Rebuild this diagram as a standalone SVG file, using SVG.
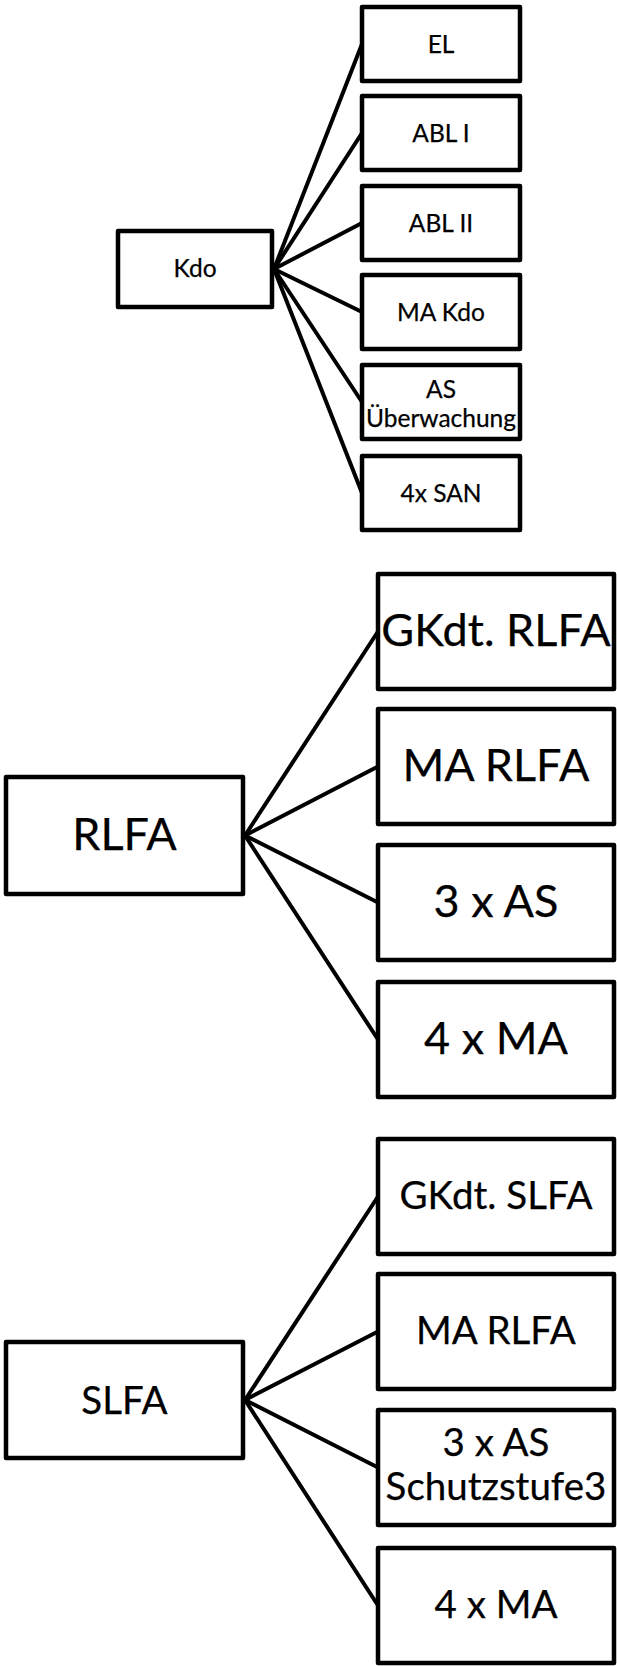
<svg xmlns="http://www.w3.org/2000/svg" width="617" height="1666" viewBox="0 0 617 1666">
<style>
rect{fill:#fff;stroke:#000;stroke-width:4.5;stroke-linejoin:round}
.c line{stroke:#000;stroke-width:4;stroke-linecap:round}
text{font-family:Lato,"Open Sans","Liberation Sans",sans-serif;fill:#000;text-anchor:middle;stroke:#000;stroke-width:0.25}
.s{font-size:24.5px}
.m{font-size:45px}
.n{font-size:38.5px}
</style>
<rect x="0" y="0" width="617" height="1666" style="stroke:none"/>
<g class="c" id="connectors">
<line x1="274" y1="269" x2="362" y2="44"/>
<line x1="274" y1="269" x2="362" y2="133"/>
<line x1="274" y1="269" x2="362" y2="223"/>
<line x1="274" y1="269" x2="362" y2="312"/>
<line x1="274" y1="269" x2="362" y2="402"/>
<line x1="274" y1="269" x2="362" y2="493"/>
<line x1="245" y1="835.5" x2="378" y2="631.5"/>
<line x1="245" y1="835.5" x2="378" y2="766.5"/>
<line x1="245" y1="835.5" x2="378" y2="902.5"/>
<line x1="245" y1="835.5" x2="378" y2="1039.5"/>
<line x1="245" y1="1400" x2="378" y2="1196.5"/>
<line x1="245" y1="1400" x2="378" y2="1331.5"/>
<line x1="245" y1="1400" x2="378" y2="1467.5"/>
<line x1="245" y1="1400" x2="378" y2="1605.5"/>
</g>
<g id="kdo"><rect x="118" y="231" width="154" height="76"/><text class="s" x="195" y="277">Kdo</text></g>
<g id="el"><rect x="362" y="7" width="158" height="74"/><text class="s" x="441" y="52.5">EL</text></g>
<g id="abl1"><rect x="362" y="96" width="158" height="74"/><text class="s" x="441" y="141.5">ABL I</text></g>
<g id="abl2"><rect x="362" y="186" width="158" height="74"/><text class="s" x="441" y="231.5">ABL II</text></g>
<g id="makdo"><rect x="362" y="275" width="158" height="74"/><text class="s" x="441" y="320.5">MA Kdo</text></g>
<g id="asueb"><rect x="362" y="365" width="158" height="74"/><text class="s" x="441" y="398">AS</text><text class="s" x="441" y="427">Überwachung</text></g>
<g id="san"><rect x="362" y="456" width="158" height="74"/><text class="s" x="441" y="501.5">4x SAN</text></g>

<g id="rlfa"><rect x="6" y="777" width="237" height="117"/><text class="m" x="124.5" y="850">RLFA</text></g>
<g id="gkdt-rlfa"><rect x="378" y="574" width="236" height="115"/><text class="m" x="496" y="646">GKdt. RLFA</text></g>
<g id="ma-rlfa"><rect x="378" y="709" width="236" height="115"/><text class="m" x="496" y="781">MA RLFA</text></g>
<g id="as3-rlfa"><rect x="378" y="845" width="236" height="115"/><text class="m" x="496" y="917">3 x AS</text></g>
<g id="ma4-rlfa"><rect x="378" y="982" width="236" height="115"/><text class="m" x="496" y="1054">4 x MA</text></g>

<g id="slfa"><rect x="6" y="1342" width="237" height="116"/><text class="n" x="124.5" y="1413.5">SLFA</text></g>
<g id="gkdt-slfa"><rect x="378" y="1139" width="236" height="115"/><text class="n" x="496" y="1209">GKdt. SLFA</text></g>
<g id="ma-slfa"><rect x="378" y="1274" width="236" height="115"/><text class="n" x="496" y="1344">MA RLFA</text></g>
<g id="as3-slfa"><rect x="378" y="1410" width="236" height="115"/><text class="n" x="496" y="1456">3 x AS</text><text class="n" x="496" y="1500">Schutzstufe3</text></g>
<g id="ma4-slfa"><rect x="378" y="1548" width="236" height="115"/><text class="n" x="496" y="1618">4 x MA</text></g>
</svg>
